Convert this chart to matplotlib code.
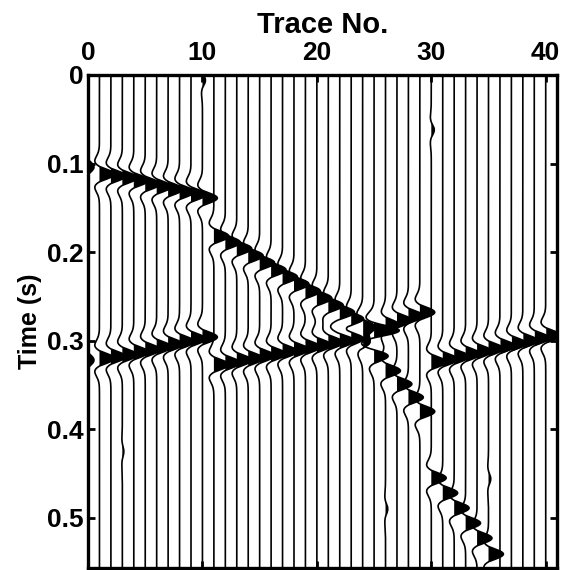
import numpy as np
import matplotlib.pyplot as plt

# section size
n_traces = 41
t_max = 0.557
dt = 0.0005
freq = 26.0  # ricker peak frequency (Hz)
gain = 1.3   # peak deflection in trace spacings
trough = 0.7  # relative size of the side lobes

# event picks: trace numbers, peak times (s), relative amplitudes
ev1_traces = list(range(0, 11))
ev1_times = [0.104, 0.112, 0.114, 0.116, 0.119, 0.123, 0.126, 0.129, 0.132, 0.135, 0.139]
ev1_amps = [0.4, 1, 1, 1, 1, 1, 1, 1, 1, 1, 1]

ev2_traces = list(range(11, 26))
ev2_times = [0.182, 0.189, 0.196, 0.204, 0.212, 0.220, 0.228, 0.236,
             0.244, 0.252, 0.260, 0.268, 0.276, 0.283, 0.290]
ev2_amps = [1] * 15

ev3_traces = list(range(24, 30))
ev3_times = [0.292, 0.287, 0.282, 0.277, 0.272, 0.268]
ev3_amps = [0.6, 0.8, 0.9, 1, 1, 1]

ev4_traces = list(range(0, 11))
ev4_times = [0.322, 0.320, 0.318, 0.316, 0.313, 0.310, 0.307, 0.304, 0.301, 0.298, 0.296]
ev4_amps = [0.4, 1, 1, 1, 1, 1, 1, 1, 1, 1, 1]

ev5_traces = list(range(11, 24))
ev5_times = [0.327, 0.325, 0.322, 0.320, 0.317, 0.315, 0.312, 0.310,
             0.307, 0.305, 0.302, 0.300, 0.297]
ev5_amps = [1] * 13

ev6_traces = list(range(24, 30))
ev6_times = [0.302, 0.317, 0.334, 0.349, 0.364, 0.380]
ev6_amps = [0.8, 1, 1, 1, 1, 1]

ev7_traces = list(range(30, 41))
ev7_times = [0.324, 0.321, 0.318, 0.315, 0.312, 0.309, 0.306, 0.303, 0.300, 0.297, 0.294]
ev7_amps = [1] * 11

ev8_traces = list(range(30, 36))
ev8_times = [0.455, 0.472, 0.489, 0.506, 0.523, 0.541]
ev8_amps = [1] * 6

# small isolated blips
blip_traces = [10, 30, 26, 35, 3]
blip_times = [0.006, 0.062, 0.490, 0.456, 0.425]
blip_amps = [0.2, 0.2, 0.15, 0.15, 0.1]

events = [
    (ev1_traces, ev1_times, ev1_amps),
    (ev2_traces, ev2_times, ev2_amps),
    (ev3_traces, ev3_times, ev3_amps),
    (ev4_traces, ev4_times, ev4_amps),
    (ev5_traces, ev5_times, ev5_amps),
    (ev6_traces, ev6_times, ev6_amps),
    (ev7_traces, ev7_times, ev7_amps),
    (ev8_traces, ev8_times, ev8_amps),
    (blip_traces, blip_times, blip_amps),
]


def ricker(t, f):
    a = (np.pi * f * t) ** 2
    w = (1 - 2 * a) * np.exp(-a)
    return np.where(w < 0, trough * w, w)


t = np.arange(0, t_max + dt, dt)
data = np.zeros((n_traces, t.size))
for trs, tms, amps in events:
    for tr, t0, a in zip(trs, tms, amps):
        data[tr] += a * ricker(t - t0, freq)

plt.rcParams['font.family'] = ['Liberation Sans', 'DejaVu Sans']
plt.rcParams['font.weight'] = 'bold'

fig = plt.figure(figsize=(5.69, 5.70), dpi=100)
ax = fig.add_axes([0.1547, 0.003, 0.8245, 0.8655])

for i in range(n_traces):
    x = i + gain * data[i]
    ax.plot(x, t, color='k', lw=1.2)
    ax.fill_betweenx(t, i, x, where=x > i, color='k', lw=0, interpolate=True)

ax.set_xlim(0, 41)
ax.set_ylim(t_max, 0)
ax.set_xticks([0, 10, 20, 30, 40])
ax.set_yticks([0, 0.1, 0.2, 0.3, 0.4, 0.5])
ax.set_yticklabels(['0', '0.1', '0.2', '0.3', '0.4', '0.5'])
ax.xaxis.set_label_position('top')
ax.tick_params(direction='in', top=True, bottom=True, left=True, right=True,
               labeltop=True, labelbottom=False, length=5, width=2,
               labelsize=19, pad=3)
ax.tick_params(axis='x', pad=7)
for lab in ax.get_xticklabels() + ax.get_yticklabels():
    lab.set_fontweight('bold')
for s in ax.spines.values():
    s.set_linewidth(2.4)
ax.set_xlabel('Trace No.', fontsize=21, fontweight='bold', labelpad=6)
ax.set_ylabel('Time (s)', fontsize=18, fontweight='bold', labelpad=4)

fig.savefig('out.png', dpi=100)
